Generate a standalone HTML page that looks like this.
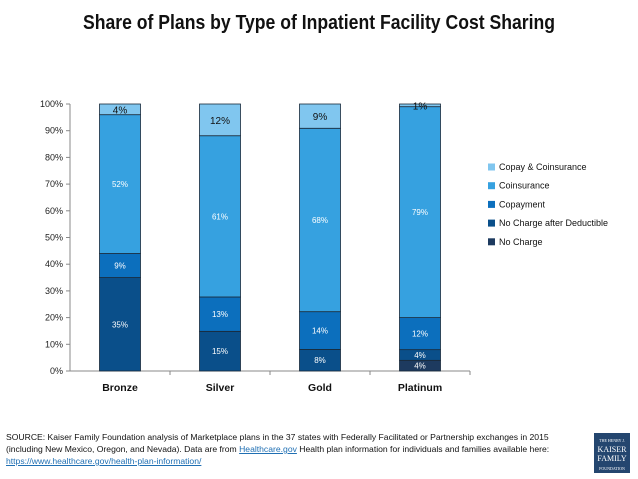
<!DOCTYPE html>
<html><head><meta charset="utf-8"><style>
body{margin:0;background:#fff;font-family:"Liberation Sans",sans-serif}
#wrap{position:relative;width:638px;height:479px;overflow:hidden}
.title{position:absolute;left:0;width:638px;top:12px;text-align:center;font-size:20px;font-weight:bold;color:#111;transform:scaleX(0.88);transform-origin:319px 0}
.src{position:absolute;left:6px;top:431px;font-size:8.6px;line-height:12px;color:#111;width:640px;white-space:nowrap}
.src a{color:#1f6fb3;text-decoration:underline}
.logo{position:absolute;left:594px;top:433px;width:36px;height:40px;background:#24466f;color:#fff;font-family:"Liberation Serif",serif;font-size:8px;text-align:center;line-height:9px;padding-top:2px;box-sizing:border-box}
</style></head><body><div id="wrap">
<div class="title">Share of Plans by Type of Inpatient Facility Cost Sharing</div>
<svg id="chart" width="638" height="420" style="position:absolute;left:0;top:0"></svg>
<div class="src">SOURCE: Kaiser Family Foundation analysis of Marketplace plans in the 37 states with Federally Facilitated or Partnership exchanges in 2015<br>(including New Mexico, Oregon, and Nevada). Data are from <a>Healthcare.gov</a> Health plan information for individuals and families available here:<br><a>https://www.healthcare.gov/health-plan-information/</a></div>
<div class="logo"><span style="font-size:4px">THE HENRY J.</span><br>KAISER<br>FAMILY<br><span style="font-size:4px">FOUNDATION</span></div>
</div>
<script>
const categories=["Bronze","Silver","Gold","Platinum"];
const seriesNames=["No Charge","No Charge after Deductible","Copayment","Coinsurance","Copay & Coinsurance"];
const noCharge=[0,0,0,4];
const noChargeAfterDeductible=[35,15,8,4];
const copayment=[9,13,14,12];
const coinsurance=[52,61,68,79];
const copayCoinsurance=[4,12,9,1];
const yTicks=[0,10,20,30,40,50,60,70,80,90,100];
const series=[noCharge,noChargeAfterDeductible,copayment,coinsurance,copayCoinsurance];
const colors=["#1d3a5f","#0a4f8a","#0c6fbd","#36a1e0","#80c6ef"];
const NS="http://www.w3.org/2000/svg";
const svg=document.getElementById('chart');
const y0=371,y1=104,xL=70,catW=100,barW=41;
const y=v=>y0-(v/100)*(y0-y1);
const xc=i=>xL+catW*(i+0.5);
function mk(t,a){const e=document.createElementNS(NS,t);for(const k in a)e.setAttribute(k,a[k]);svg.appendChild(e);return e;}
yTicks.forEach(t=>{
 const e=mk('text',{x:xL-7,y:y(t)+3,'text-anchor':'end','font-size':'9','fill':'#222'});
 
 
 e.textContent=t+'%';
 const l=mk('line',{x1:xL-4,x2:xL,y1:y(t),y2:y(t),stroke:'#888'});
 
 
});
const ya=mk('line',{x1:xL,x2:xL,y1:y1,y2:y0,stroke:'#888'});


const xa=mk('line',{x1:xL,x2:xL+catW*categories.length,y1:y0,y2:y0,stroke:'#888'});


categories.forEach((c,i)=>{
 const tk=mk('line',{x1:xL+catW*(i+1),x2:xL+catW*(i+1),y1:y0,y2:y0+4,stroke:'#888'});
 
 
 const lb=mk('text',{x:xc(i),y:y0+20,'text-anchor':'middle','font-size':'10.5','font-weight':'bold','fill':'#111'});
 
 
 lb.textContent=c;
 const total=series.reduce((a,s)=>a+s[i],0);
 let cum=0;
 series.forEach((s,j)=>{
  const v=s[i];if(!v)return;
  const nv=v*100/total;
  const top=y(cum+nv),bot=y(cum);
  const r=mk('rect',{x:xc(i)-barW/2,y:top,width:barW,height:bot-top,fill:colors[j],stroke:'#1a2a3a','stroke-width':'0.8'});
  
  
  const isTop=j===4;
  const t=mk('text',{x:xc(i),y:(top+bot)/2+(isTop?4:3),'text-anchor':'middle','font-size':isTop?'10':'8','fill':isTop?'#111':'#fff'});
  
  
  t.textContent=v+'%';
  cum+=nv;
 });
});
for(let j=seriesNames.length-1;j>=0;j--){
 const k=seriesNames.length-1-j, ly=167+k*18.7;
 const sw=mk('rect',{x:488,y:ly-3.5,width:7,height:7,fill:colors[j]});
 
 
 const t=mk('text',{x:499,y:ly+3,'font-size':'9','fill':'#111'});
 
 
 t.textContent=seriesNames[j];
}
</script></body></html>
